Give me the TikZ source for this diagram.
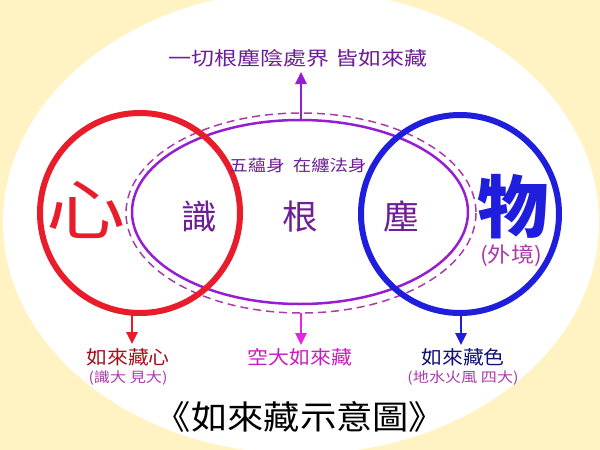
\documentclass[tikz,border=0pt]{standalone}
\usepackage{fontspec}
\usepackage{tikz}
\usepackage{xcolor}
\usetikzlibrary{arrows.meta,positioning}
\setmainfont{Noto Sans CJK TC}
\definecolor{bgyellow}{RGB}{255,243,196}
\definecolor{xinred}{RGB}{232,28,42}
\definecolor{wublue}{RGB}{30,30,220}
\definecolor{genpurple}{RGB}{150,30,210}
\definecolor{dashpurple}{RGB}{170,60,170}
\definecolor{textpurple}{RGB}{110,30,150}
\definecolor{kongmagenta}{RGB}{235,35,225}
\tikzset{
  lab/.style={inner sep=0pt, xscale=1.1, font=\fontsize{19}{19}\selectfont},
  sublab/.style={inner sep=0pt, xscale=1.15, font=\fontsize{14}{14}\selectfont},
  arr/.style={-{Triangle[length=12pt,width=11pt]}, line width=2.5pt}
}

\begin{document}
\begin{tikzpicture}[x=1pt,y=-1pt]
    % Background
    \fill[bgyellow] (0,0) rectangle (600,450);
    \useasboundingbox (0,0) rectangle (600,450);
    \begin{scope}
        \clip (0,0) rectangle (600,450);
        \fill[white] (301,222) ellipse [x radius=298, y radius=232];
    \end{scope}

    % Body ellipses
    \draw[dashpurple, line width=1.5pt, dash pattern=on 8pt off 5pt] (301,213) ellipse [x radius=175, y radius=100];
    \draw[genpurple, line width=2.5pt] (300,212) ellipse [x radius=168, y radius=92];

    % Mind and matter circles
    \draw[xinred, line width=6pt] (140,213) circle (100);
    \draw[wublue, line width=6pt] (460,214) circle (99);

    % Labels inside
    \node[inner sep=0pt, xinred, xscale=1.2, font=\fontsize{66}{66}\selectfont] (xin) at (86,210) {心};
    \node[inner sep=0pt, wublue, xscale=1.05, font=\bfseries\fontsize{68}{68}\selectfont] (wu) at (513,207) {物};
    \node[inner sep=0pt, dashpurple, xscale=1.1, font=\fontsize{21}{21}\selectfont] (waijing) at (511,256) {(外境)};
    \node[inner sep=0pt, textpurple, xscale=1.05, font=\fontsize{34}{34}\selectfont] (shi) at (199,217) {識};
    \node[inner sep=0pt, textpurple, xscale=1.05, font=\fontsize{34}{34}\selectfont] (gen) at (300,217) {根};
    \node[inner sep=0pt, textpurple, xscale=1.05, font=\fontsize{34}{34}\selectfont] (chen) at (401,217) {塵};
    \node[inner sep=0pt, textpurple, xscale=1.15, font=\fontsize{16}{16}\selectfont] (wuyun) at (298,165) {五蘊身\ \ 在纏法身};

    % Top label
    \node[lab, xscale=1.1, textpurple, font=\fontsize{19}{19}\selectfont] (top) at (298,58) {一切根塵陰處界 皆如來藏};
    \coordinate (topstart) at (301,120);
    \draw[arr, genpurple] (topstart) -- (301,72);

    % Bottom labels
    \node[lab, xinred!70!black] (rlxin) at (128,357) {如來藏心};
    \node[sublab, dashpurple] (rlxinsub) at (128,378) {(識大 見大)};
    \node[lab, kongmagenta!85!black] (rlkong) at (300,357) {空大如來藏};
    \node[lab, wublue!55!black] (rlse) at (463,357) {如來藏色};
    \node[sublab, dashpurple] (rlsesub) at (463,378) {(地水火風 四大)};

    % Arrows down
    \coordinate (xinbot) at (132,314);
    \coordinate (kongtop) at (301,313);
    \coordinate (wubot) at (461,314);
    \draw[arr, xinred] (xinbot) -- (132,344);
    \draw[arr, kongmagenta] (kongtop) -- (301,345);
    \draw[arr, wublue] (wubot) -- (461,345);

    % Title
    \node[inner sep=0pt, xscale=1.1, font=\fontsize{33}{33}\selectfont] (title) at (300,417) {《如來藏示意圖》};
\end{tikzpicture}
\end{document}
